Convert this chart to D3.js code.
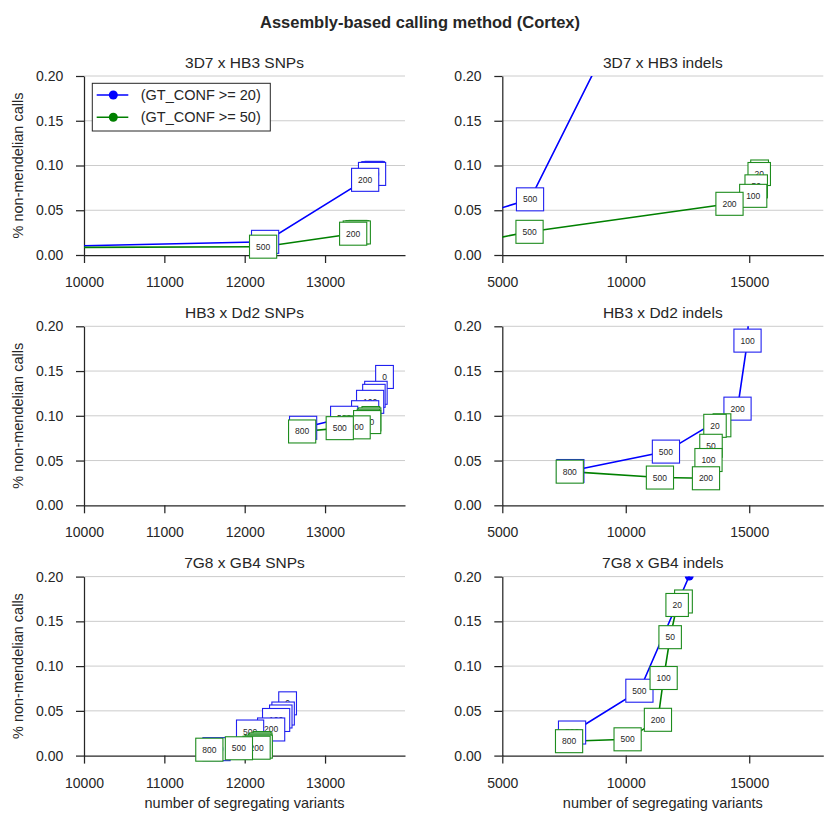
<!DOCTYPE html>
<html>
<head>
<meta charset="utf-8">
<script src="https://cdn.jsdelivr.net/npm/d3@7"></script>
<style>
body { margin: 0; background: #fff; }
text { font-family: "Liberation Sans", Arial, sans-serif; fill: #262626; }
</style>
</head>
<body>
<svg id="chart" width="840" height="840"></svg>
<script>
// label of each point, same order in every series array below
var thresholds = [0, 20, 50, 100, 200, 500, 800];
var seriesNames = ["(GT_CONF >= 20)", "(GT_CONF >= 50)"];
var panelTitles = ["3D7 x HB3 SNPs", "3D7 x HB3 indels", "HB3 x Dd2 SNPs",
                   "HB3 x Dd2 indels", "7G8 x GB4 SNPs", "7G8 x GB4 indels"];
var yTicks = [0, 0.05, 0.10, 0.15, 0.20];
var snpTicks = [10000, 11000, 12000, 13000];
var indelTicks = [5000, 10000, 15000];

// 3D7 x HB3 SNPs
var p1Gc20X = [13610, 13600, 13592, 13585, 13499, 12254, 9500];
var p1Gc20Y = [0.0918, 0.0914, 0.0910, 0.0906, 0.0840, 0.0147, 0.0094];
var p1Gc50X = [13410, 13405, 13400, 13395, 13350, 12229, 9500];
var p1Gc50Y = [0.0258, 0.0256, 0.0254, 0.0252, 0.0238, 0.0093, 0.0084];
// 3D7 x HB3 indels
var p2Gc20X = [16500, 16000, 15000, 13000, 10440, 6123, 3500];
var p2Gc20Y = [0.62, 0.55, 0.47, 0.40, 0.30, 0.0622, 0.0405];
var p2Gc50X = [15420, 15405, 15283, 15162, 14201, 6103, 3500];
var p2Gc50Y = [0.0933, 0.0905, 0.0767, 0.0661, 0.0572, 0.0259, 0.0122];
// HB3 x Dd2 SNPs
var p3Gc20X = [13740, 13633, 13608, 13561, 13499, 13238, 12727];
var p3Gc20Y = [0.1434, 0.1257, 0.1223, 0.1156, 0.1040, 0.0978, 0.0866];
var p3Gc50X = [13570, 13555, 13540, 13524, 13393, 13183, 12715];
var p3Gc50Y = [0.0975, 0.0960, 0.0945, 0.0930, 0.0871, 0.0862, 0.0825];
// HB3 x Dd2 indels
var p4Gc20X = [15400, 15250, 15100, 14931, 14526, 11627, 7756];
var p4Gc20Y = [0.45, 0.38, 0.30, 0.184, 0.108, 0.060, 0.0383];
var p4Gc50X = [13897, 13614, 13452, 13350, 13249, 11384, 7732];
var p4Gc50Y = [0.0894, 0.0888, 0.0665, 0.0506, 0.0302, 0.0310, 0.0376];
// 7G8 x GB4 SNPs
var p5Gc20X = [12534, 12478, 12449, 12391, 12329, 12067, 11649];
var p5Gc20Y = [0.0584, 0.0470, 0.0437, 0.0398, 0.0292, 0.0269, 0.0072];
var p5Gc50X = [12215, 12200, 12188, 12175, 12148, 11928, 11560];
var p5Gc50Y = [0.0140, 0.0125, 0.0112, 0.0100, 0.0088, 0.0082, 0.0066];
// 7G8 x GB4 indels
var p6Gc20X = [15000, 14500, 14000, 13400, 12570, 10553, 7825];
var p6Gc20Y = [0.60, 0.50, 0.40, 0.30, 0.2006, 0.0725, 0.0258];
var p6Gc50X = [12337, 12081, 11798, 11534, 11303, 10075, 7704];
var p6Gc50Y = [0.1722, 0.1683, 0.1323, 0.0867, 0.0400, 0.0182, 0.0161];

var panels = [
  {x: [p1Gc20X, p1Gc50X], y: [p1Gc20Y, p1Gc50Y], domain: [10000, 13995], ticks: snpTicks},
  {x: [p2Gc20X, p2Gc50X], y: [p2Gc20Y, p2Gc50Y], domain: [5000, 18000], ticks: indelTicks},
  {x: [p3Gc20X, p3Gc50X], y: [p3Gc20Y, p3Gc50Y], domain: [10000, 13995], ticks: snpTicks},
  {x: [p4Gc20X, p4Gc50X], y: [p4Gc20Y, p4Gc50Y], domain: [5000, 18000], ticks: indelTicks},
  {x: [p5Gc20X, p5Gc50X], y: [p5Gc20Y, p5Gc50Y], domain: [10000, 13995], ticks: snpTicks},
  {x: [p6Gc20X, p6Gc50X], y: [p6Gc20Y, p6Gc50Y], domain: [5000, 18000], ticks: indelTicks}
];

var lineColors = ["#0000ff", "#008000"];
var boxColors = ["#2020f0", "#1e8c1e"];

var plotW = 321, plotH = 179;
var lefts = [84, 502.3];
var rowStep = 250.3, firstTop = 76;

var svg = d3.select("#chart");

svg.append("text")
    .attr("x", 420).attr("y", 28)
    .attr("text-anchor", "middle")
    .style("font-size", "16.5px").style("font-weight", "bold")
    .text("Assembly-based calling method (Cortex)");

panels.forEach(function(p, i) {
  var col = i % 2, row = Math.floor(i / 2);
  var g = svg.append("g")
      .attr("transform", "translate(" + lefts[col] + "," + (firstTop + row * rowStep) + ")");

  var x = d3.scaleLinear().domain(p.domain).range([0, plotW]);
  var y = d3.scaleLinear().domain([0, 0.2]).range([plotH, 0]);

  // horizontal grid
  g.selectAll(".grid")
    .data(yTicks.filter(d => d > 0))
    .enter().append("line")
      .attr("x1", 0).attr("x2", plotW)
      .attr("y1", d => y(d)).attr("y2", d => y(d))
      .attr("stroke", "#cccccc").attr("stroke-width", 1);

  var yAxis = g.append("g")
      .call(d3.axisLeft(y).tickValues(yTicks).tickFormat(d3.format(".2f"))
              .tickSizeInner(8).tickSizeOuter(0).tickPadding(12.7));
  var xAxis = g.append("g")
      .attr("transform", "translate(0," + plotH + ")")
      .call(d3.axisBottom(x).tickValues(p.ticks).tickFormat(d3.format("d"))
              .tickSizeInner(8).tickSizeOuter(0).tickPadding(14));
  [yAxis, xAxis].forEach(function(a) {
    a.select(".domain").attr("stroke", "#262626").attr("stroke-width", 1.25);
    a.selectAll(".tick line").attr("stroke", "#262626").attr("stroke-width", 1.25);
    a.selectAll(".tick text").attr("fill", "#262626")
      .style("font-size", "14px").style("font-family", "Liberation Sans, Arial, sans-serif");
  });

  g.append("text")
      .attr("x", plotW / 2).attr("y", -8.3)
      .attr("text-anchor", "middle")
      .style("font-size", "15.5px")
      .text(panelTitles[i]);

  if (col === 0) {
    g.append("text")
        .attr("transform", "translate(" + (23 - lefts[0]) + "," + (plotH / 2) + ") rotate(-90)")
        .attr("text-anchor", "middle")
        .style("font-size", "14.5px")
        .text("% non-mendelian calls");
  }
  if (row === 2) {
    g.append("text")
        .attr("x", plotW / 2).attr("y", plotH + 52)
        .attr("text-anchor", "middle")
        .style("font-size", "14.5px")
        .text("number of segregating variants");
  }

  var clipId = "clip" + i;
  g.append("clipPath").attr("id", clipId)
    .append("rect").attr("x", 0).attr("y", 0).attr("width", plotW).attr("height", plotH);
  var plot = g.append("g").attr("clip-path", "url(#" + clipId + ")");

  var line = d3.line().x(d => x(d[0])).y(d => y(d[1]));

  var series = p.x.map(function(xs, s) {
    return xs.map(function(v, j) { return [v, p.y[s][j], thresholds[j]]; });
  });

  series.forEach(function(pts, s) {
    plot.append("path")
        .datum(pts)
        .attr("d", line)
        .attr("fill", "none")
        .attr("stroke", lineColors[s])
        .attr("stroke-width", 1.6);
    plot.selectAll(".dot" + s)
      .data(pts)
      .enter().append("circle")
        .attr("cx", d => x(d[0])).attr("cy", d => y(d[1]))
        .attr("r", 4.5)
        .attr("fill", lineColors[s]);
  });

  // threshold labels, only for points inside the axes
  series.forEach(function(pts, s) {
    pts.forEach(function(d) {
      if (d[0] < p.domain[0] || d[0] > p.domain[1] || d[1] < 0 || d[1] > 0.2) return;
      var lg = g.append("g")
          .attr("transform", "translate(" + x(d[0]) + "," + y(d[1]) + ")");
      var r = lg.append("rect");
      var t = lg.append("text")
          .attr("text-anchor", "middle")
          .attr("dy", "0.35em")
          .attr("fill", "#333")
          .style("font-size", "8.5px")
          .text(d[2]);
      var w = t.node().getComputedTextLength() + 13;
      r.attr("x", -w / 2).attr("y", -11.5)
       .attr("width", w).attr("height", 23)
       .attr("fill", "#fff")
       .attr("stroke", boxColors[s]).attr("stroke-width", 1.1);
    });
  });

  if (i === 0) {
    var leg = g.append("g").attr("transform", "translate(8.3,7.3)");
    leg.append("rect")
        .attr("width", 178).attr("height", 47.7)
        .attr("fill", "#fff").attr("stroke", "#262626").attr("stroke-width", 1);
    seriesNames.forEach(function(name, s) {
      var yy = 11.7 + s * 22.3;
      leg.append("line")
          .attr("x1", 4.4).attr("x2", 36).attr("y1", yy).attr("y2", yy)
          .attr("stroke", lineColors[s]).attr("stroke-width", 1.6);
      leg.append("circle")
          .attr("cx", 21).attr("cy", yy).attr("r", 4.5)
          .attr("fill", lineColors[s]);
      leg.append("text")
          .attr("x", 48.4).attr("y", yy).attr("dy", "0.35em")
          .style("font-size", "14.5px")
          .text(name);
    });
  }
});
</script>
</body>
</html>
